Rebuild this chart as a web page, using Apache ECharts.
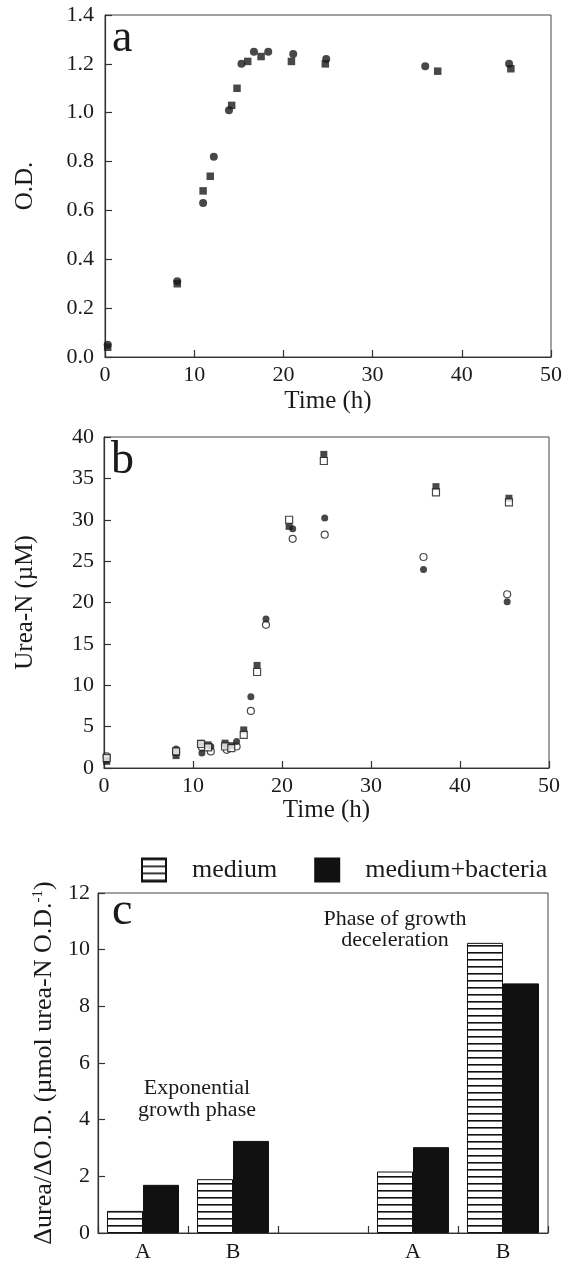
<!DOCTYPE html>
<html>
<head>
<meta charset="utf-8">
<script src="https://cdn.jsdelivr.net/npm/echarts@6/dist/echarts.min.js"></script>
<style>
  html, body { margin: 0; padding: 0; background: #fff; }
  #chart { width: 576px; height: 1263px; }
</style>
</head>
<body>
<div id="chart"></div>
<script>
// panel a - O.D.
const tCircA = [0.3, 8.1, 11.0, 12.2, 13.9, 15.3, 16.7, 18.3, 21.1, 24.8, 35.9, 45.3];
const odCirc = [0.05, 0.31, 0.63, 0.82, 1.01, 1.20, 1.25, 1.25, 1.24, 1.22, 1.19, 1.20];
const tSqA = [0.3, 8.1, 11.0, 11.8, 14.2, 14.8, 16.0, 17.5, 20.9, 24.7, 37.3, 45.5];
const odSq = [0.04, 0.30, 0.68, 0.74, 1.03, 1.10, 1.21, 1.23, 1.21, 1.20, 1.17, 1.18];

// panel b - Urea-N
const tCircB = [0.3, 8.1, 11.0, 12.0, 13.8, 14.9, 16.5, 18.2, 21.2, 24.8, 35.9, 45.3];
const ureaCircFilled = [1.0, 2.3, 1.8, 2.6, 2.6, 3.2, 8.6, 18.0, 28.9, 30.2, 24.0, 20.1];
const ureaCircOpen = [1.4, 1.9, 2.5, 2.0, 2.2, 2.6, 6.9, 17.3, 27.7, 28.2, 25.5, 21.0];
const tSqB = [0.3, 8.1, 10.9, 11.7, 13.6, 14.3, 15.7, 17.2, 20.8, 24.7, 37.3, 45.5];
const ureaSqFilled = [0.8, 1.5, 3.0, 2.8, 3.0, 2.7, 4.6, 12.4, 29.2, 37.9, 34.0, 32.6];
const ureaSqOpen = [1.2, 2.0, 2.9, 2.5, 2.6, 2.4, 4.0, 11.6, 30.0, 37.1, 33.3, 32.1];

// panel c - bars
const phaseCats = ["A", "B", "", "A", "B"];
const medium = [0.78, 1.9, "-", 2.17, 10.24];
const mediumBact = [1.7, 3.25, "-", 3.03, 8.81];

const odTicks = { min: 0, max: 1.4, interval: 0.2 };
const ureaTicks = { min: 0, max: 40, interval: 5 };
const timeTicks = { min: 0, max: 50, interval: 10 };
const rateTicks = { min: 0, max: 12, interval: 2 };

const serif = "Liberation Serif";
const ink = "#1a1a1a";

function zip(xs, ys) {
  return xs.map((x, i) => [x, ys[i]]);
}

// horizontal hatch used by the "medium" bars
let hatch = document.createElement("canvas");
hatch.width = 4;
hatch.height = 7;
let hctx = hatch.getContext("2d");
hctx.fillStyle = "#fff";
hctx.fillRect(0, 0, 4, 7);
hctx.fillStyle = "#111";
hctx.fillRect(0, 0, 4, 1.6);

let myChart = echarts.init(document.getElementById("chart"));

let lineOption = { show: true, lineStyle: { color: "#333", width: 1.2 } };
let tickOption = { show: true, inside: true, length: 7, lineStyle: { color: "#333", width: 1.2 } };
let labelOption = { color: ink, fontFamily: serif, fontSize: 22 };
let nameOption = { color: ink, fontFamily: serif, fontSize: 25 };

function valueX(gridIndex) {
  return {
    type: "value",
    gridIndex: gridIndex,
    min: timeTicks.min,
    max: timeTicks.max,
    interval: timeTicks.interval,
    name: "Time (h)",
    nameLocation: "middle",
    nameGap: gridIndex === 0 ? 32 : 30,
    nameTextStyle: nameOption,
    axisLine: lineOption,
    axisTick: tickOption,
    axisLabel: Object.assign({ margin: 7 }, labelOption),
    splitLine: { show: false }
  };
}

myChart.setOption({
  animation: false,
  backgroundColor: "#fff",
  grid: [
    { left: 105, right: 25, top: 15, height: 342, show: true, borderColor: "#444", borderWidth: 1 },
    { left: 104, right: 27, top: 437, height: 331, show: true, borderColor: "#444", borderWidth: 1 },
    { left: 98, right: 28, top: 893, height: 341, show: true, borderColor: "#444", borderWidth: 1 }
  ],
  legend: {
    data: ["medium", "medium+bacteria"],
    icon: "rect",
    left: 136,
    top: 852,
    itemWidth: 24,
    itemHeight: 23,
    itemGap: 37,
    textStyle: { color: ink, fontFamily: serif, fontSize: 26, padding: [0, 0, 0, 21] }
  },
  xAxis: [
    valueX(0),
    valueX(1),
    {
      type: "category",
      gridIndex: 2,
      data: phaseCats,
      axisLine: lineOption,
      axisTick: tickOption,
      axisLabel: Object.assign({ margin: 8 }, labelOption)
    }
  ],
  yAxis: [
    {
      type: "value",
      gridIndex: 0,
      min: odTicks.min,
      max: odTicks.max,
      interval: odTicks.interval,
      name: "O.D.",
      nameLocation: "middle",
      nameGap: 67,
      nameTextStyle: nameOption,
      axisLine: lineOption,
      axisTick: tickOption,
      axisLabel: Object.assign({ margin: 11, formatter: v => v.toFixed(1) }, labelOption),
      splitLine: { show: false }
    },
    {
      type: "value",
      gridIndex: 1,
      min: ureaTicks.min,
      max: ureaTicks.max,
      interval: ureaTicks.interval,
      name: "Urea-N (\u00b5M)",
      nameLocation: "middle",
      nameGap: 66,
      nameTextStyle: nameOption,
      axisLine: lineOption,
      axisTick: tickOption,
      axisLabel: Object.assign({ margin: 10 }, labelOption),
      splitLine: { show: false }
    },
    {
      type: "value",
      gridIndex: 2,
      min: rateTicks.min,
      max: rateTicks.max,
      interval: rateTicks.interval,
      name: "{t|\u0394urea/\u0394O.D. (\u00b5mol urea-N O.D.}{s|-1}{t|)}",
      nameLocation: "middle",
      nameGap: 37,
      nameTextStyle: {
        color: ink,
        rich: {
          t: { fontFamily: serif, fontSize: 26, color: ink },
          s: { fontFamily: serif, fontSize: 15, color: ink, padding: [0, 0, 12, 0] }
        }
      },
      axisLine: lineOption,
      axisTick: tickOption,
      axisLabel: Object.assign({ margin: 8 }, labelOption),
      splitLine: { show: false }
    }
  ],
  series: [
    {
      type: "scatter", xAxisIndex: 0, yAxisIndex: 0,
      symbol: "circle", symbolSize: 8,
      itemStyle: { color: ink },
      data: zip(tCircA, odCirc)
    },
    {
      type: "scatter", xAxisIndex: 0, yAxisIndex: 0,
      symbol: "rect", symbolSize: 7.5,
      itemStyle: { color: ink },
      data: zip(tSqA, odSq)
    },
    {
      type: "scatter", xAxisIndex: 1, yAxisIndex: 1,
      symbol: "circle", symbolSize: 7,
      itemStyle: { color: "#fff", borderColor: ink, borderWidth: 1.2 },
      data: zip(tCircB, ureaCircOpen)
    },
    {
      type: "scatter", xAxisIndex: 1, yAxisIndex: 1,
      symbol: "circle", symbolSize: 7,
      itemStyle: { color: ink },
      data: zip(tCircB, ureaCircFilled)
    },
    {
      type: "scatter", xAxisIndex: 1, yAxisIndex: 1,
      symbol: "rect", symbolSize: 7,
      itemStyle: { color: ink },
      data: zip(tSqB, ureaSqFilled)
    },
    {
      type: "scatter", xAxisIndex: 1, yAxisIndex: 1,
      symbol: "rect", symbolSize: 7,
      itemStyle: { color: "#fff", borderColor: ink, borderWidth: 1.2 },
      data: zip(tSqB, ureaSqOpen)
    },
    {
      name: "medium",
      type: "bar", xAxisIndex: 2, yAxisIndex: 2,
      barGap: "0%", barCategoryGap: "20%",
      itemStyle: { color: { image: hatch, repeat: "repeat" }, borderColor: "#111", borderWidth: 1 },
      data: medium
    },
    {
      name: "medium+bacteria",
      type: "bar", xAxisIndex: 2, yAxisIndex: 2,
      barGap: "0%", barCategoryGap: "20%",
      itemStyle: { color: "#111", borderColor: "#111", borderWidth: 1 },
      data: mediumBact
    }
  ],
  graphic: [
    { type: "text", left: 112, top: 16, style: { text: "a", font: "46px " + serif, fill: ink } },
    { type: "text", left: 111, top: 438, style: { text: "b", font: "46px " + serif, fill: ink } },
    { type: "text", left: 112, top: 889, style: { text: "c", font: "46px " + serif, fill: ink } },
    {
      type: "text", x: 395, y: 909,
      style: {
        text: "Phase of growth\ndeceleration", font: "22px " + serif, fill: ink,
        lineHeight: 21, align: "center", textAlign: "center", verticalAlign: "top", textVerticalAlign: "top"
      }
    },
    {
      type: "text", x: 197, y: 1077,
      style: {
        text: "Exponential\ngrowth phase", font: "22px " + serif, fill: ink,
        lineHeight: 22, align: "center", textAlign: "center", verticalAlign: "top", textVerticalAlign: "top"
      }
    }
  ]
});
</script>
</body>
</html>
